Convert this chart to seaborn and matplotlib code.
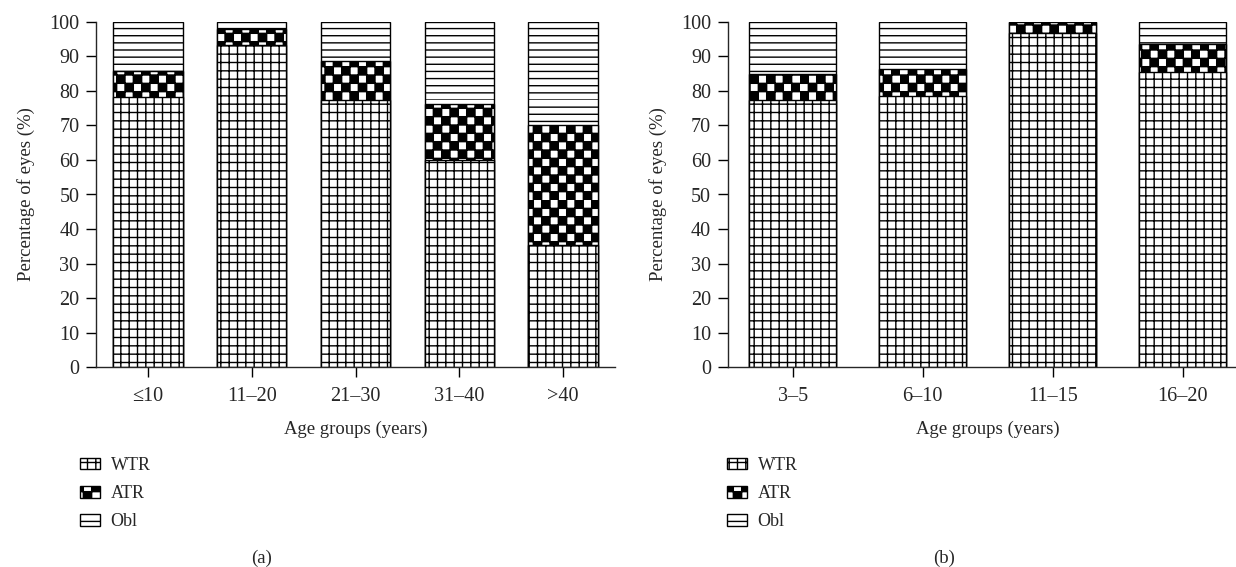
import warnings
import numpy as np
import matplotlib
matplotlib.use("Agg")
import matplotlib.pyplot as plt
import matplotlib.patches as mpatches
from matplotlib import hatch as mhatch
from matplotlib.path import Path
import seaborn as sns

warnings.filterwarnings("ignore")

# Data (percent of eyes)
groups_a = ["\u226410", "11\u201320", "21\u201330", "31\u201340", ">40"]
wtr_a = [78.1, 93.4, 77.2, 60.0, 35.4]
atr_a = [7.6, 4.5, 11.5, 16.1, 34.7]
obl_a = [14.3, 2.1, 11.3, 23.9, 29.9]

groups_b = ["3\u20135", "6\u201310", "11\u201315", "16\u201320"]
wtr_b = [77.2, 78.5, 96.8, 85.5]
atr_b = [7.7, 7.7, 3.2, 8.0]
obl_b = [15.1, 13.8, 0.0, 6.5]

series = ["WTR", "ATR", "Obl"]


# -----------------------------
# custom hatches: checkerboard ('c') and dense horizontal lines ('h')
# -----------------------------
class CheckerHatch(mhatch.HatchPatternBase):
    def __init__(self, hatch, density):
        self.n = hatch.count("c") * 12
        self.num_vertices = (self.n * self.n // 2) * 5

    def set_vertices_and_codes(self, vertices, codes):
        s = 1.0 / self.n
        sq = np.array([[0, 0], [1, 0], [1, 1], [0, 1], [0, 0]], float) * s
        parts = [sq + [i * s, j * s] for i in range(self.n)
                 for j in range(self.n) if (i + j) % 2 == 0]
        vertices[:] = np.concatenate(parts)
        codes[:] = np.tile([Path.MOVETO, Path.LINETO, Path.LINETO,
                            Path.LINETO, Path.CLOSEPOLY], len(parts))


class HLineHatch(mhatch.HatchPatternBase):
    def __init__(self, hatch, density):
        self.n = hatch.count("h") * 14
        self.num_vertices = self.n * 2

    def set_vertices_and_codes(self, vertices, codes):
        ys = np.arange(self.n) / self.n
        vertices[0::2, 0] = 0.0
        vertices[1::2, 0] = 1.0
        vertices[0::2, 1] = ys
        vertices[1::2, 1] = ys
        codes[0::2] = Path.MOVETO
        codes[1::2] = Path.LINETO


mhatch._hatch_types.extend([CheckerHatch, HLineHatch])

hatches = {"WTR": "++", "ATR": "c", "Obl": "h"}

# Set style
sns.set_style("ticks")
plt.rcParams["font.family"] = ["Liberation Serif", "DejaVu Serif"]
plt.rcParams["hatch.linewidth"] = 1.0
plt.rcParams["hatch.color"] = "black"
plt.rcParams["axes.linewidth"] = 1.0
plt.rcParams["xtick.major.width"] = 1.0
plt.rcParams["ytick.major.width"] = 1.0

TICK_FS = 14.5
LABEL_FS = 13.5
LEG_FS = 13
W, H = 1236, 567

fig = plt.figure(figsize=(W / 100, H / 100), dpi=100)
ax_a = fig.add_axes([96 / W, 1 - 367.3 / H, 519 / W, 345.6 / H])
ax_b = fig.add_axes([727.7 / W, 1 - 367.3 / H, 520 / W, 345.6 / H])


def draw_panel(ax, groups, wtr, atr, obl, leg_x, tag, tag_x):
    cum = np.cumsum([wtr, atr, obl], axis=0)
    # draw from the top layer down so each lower layer covers the one above
    for name, top in zip(series[::-1], cum[::-1]):
        sns.barplot(x=groups, y=top, color="white", edgecolor="black",
                    linewidth=1.0, width=0.67, saturation=1,
                    hatch=hatches[name], errorbar=None, ax=ax)
    ax.set_xlim(-0.5, len(groups) - 0.5)
    ax.set_ylim(0, 100)
    ax.set_yticks(range(0, 101, 10))
    ax.tick_params(axis="both", labelsize=TICK_FS, length=7, color="black")
    ax.tick_params(axis="x", pad=7)
    ax.tick_params(axis="y", pad=5)
    ax.set_ylabel("Percentage of eyes (%)", fontsize=LABEL_FS, labelpad=10)
    ax.set_xlabel("Age groups (years)", fontsize=LABEL_FS, labelpad=11)
    sns.despine(ax=ax)

    handles = [mpatches.Patch(facecolor="white", edgecolor="black",
                              hatch=hatches[s], label=s) for s in series]
    ax.legend(handles=handles, loc="upper left",
              bbox_to_anchor=(leg_x / W, 1 - 457 / H),
              bbox_transform=fig.transFigure, frameon=False, fontsize=LEG_FS,
              borderpad=0, borderaxespad=0, handlelength=1.1,
              handleheight=0.6, handletextpad=0.6, labelspacing=0.62)
    fig.text(tag_x / W, 1 - 558 / H, tag, ha="center", va="center",
             fontsize=LABEL_FS)


draw_panel(ax_a, groups_a, wtr_a, atr_a, obl_a, 80, "(a)", 262)
draw_panel(ax_b, groups_b, wtr_b, atr_b, obl_b, 727, "(b)", 944)

plt.savefig("out.png", dpi=100)
plt.close()
print("saved out.png")
